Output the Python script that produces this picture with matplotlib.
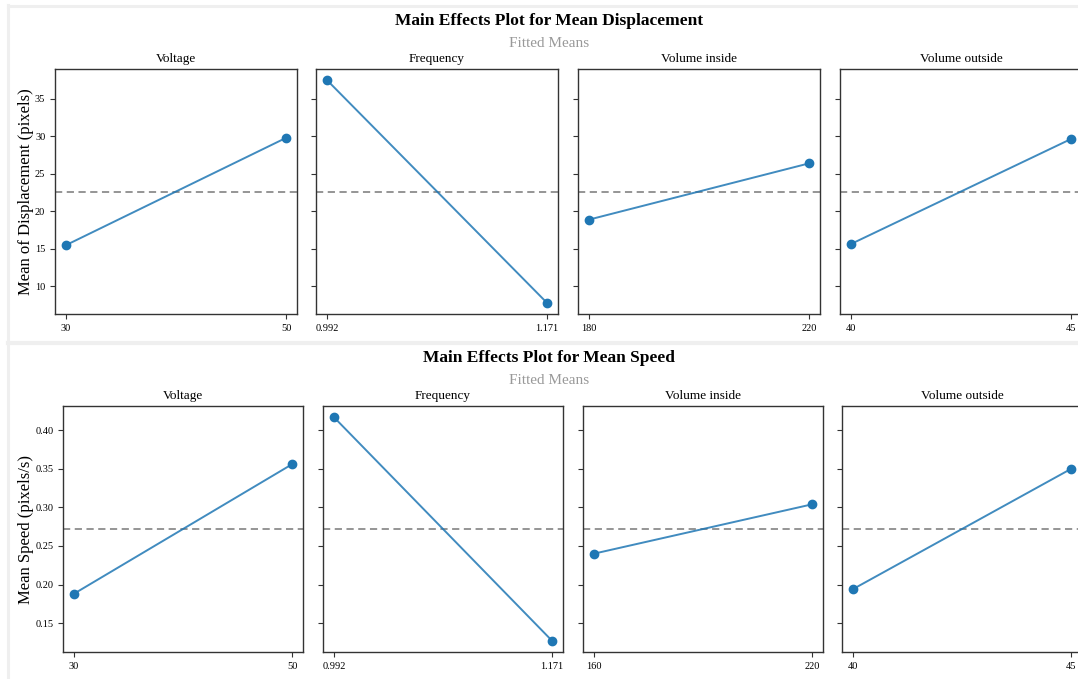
import matplotlib
matplotlib.use('Agg')
import matplotlib.pyplot as plt
from matplotlib.lines import Line2D

plt.rcParams['font.family'] = ['Liberation Serif', 'DejaVu Serif']

# ── Data ──────────────────────────────────────────────────────────────────────
factors = ['Voltage', 'Frequency', 'Volume inside', 'Volume outside']

disp_levels = [[30, 50], [0.992, 1.171], [180, 220], [40, 45]]
disp_means = [[15.5, 29.8], [37.5, 7.8], [18.9, 26.4], [15.65, 29.65]]
disp_grand = 22.65

speed_levels = [[30, 50], [0.992, 1.171], [160, 220], [40, 45]]
speed_means = [[0.188, 0.356], [0.417, 0.127], [0.240, 0.304], [0.194, 0.350]]
speed_grand = 0.272

# ── Figure (pixel layout) ─────────────────────────────────────────────────────
W, H = 1078, 679
fig = plt.figure(figsize=(W / 100, H / 100), dpi=100)
fig.patch.set_facecolor('white')


def px_axes(left, top, width, height):
    return fig.add_axes([left / W, 1 - (top + height) / H, width / W, height / H])


# light grey screenshot frame lines
frame = '#efefef'
fig.add_artist(Line2D([8 / W, 8 / W], [0, 1 - 5 / H], color=frame, lw=2.2,
                      transform=fig.transFigure))
fig.add_artist(Line2D([8 / W, 1], [1 - 5.5 / H, 1 - 5.5 / H], color=frame, lw=2.2,
                      transform=fig.transFigure))
fig.add_artist(Line2D([8 / W, 1], [1 - 343 / H, 1 - 343 / H], color=frame, lw=3,
                      transform=fig.transFigure))


def draw_block(lefts, top, width, height, levels, means, grand, ylabel,
               title, title_y, sub_y):
    axes = []
    for i, name in enumerate(factors):
        ax = px_axes(lefts[i], top, width, height)
        if axes:
            ax.sharey(axes[0])
        axes.append(ax)
        ax.plot(levels[i], means[i], color='#1f77b4', lw=1.4, alpha=0.85,
                zorder=3)
        ax.scatter(levels[i], means[i], color='#1f77b4', s=36, zorder=4)
        ax.axhline(grand, color='#8c8c8c', ls='--', lw=1.3, dashes=(4, 2.5),
                   zorder=2)
        ax.set_xticks(levels[i])
        labels = [f'{v:g}' for v in levels[i]]
        if i == 1:
            labels = [f'{v:.3f}' for v in levels[i]]
        ax.set_xticklabels(labels)
        ax.set_title(name, fontsize=9.5, pad=5)
        ax.tick_params(labelsize=7.5, length=3.5, width=0.8, color='#333333')
        for sp in ax.spines.values():
            sp.set_color('#333333')
            sp.set_linewidth(1.0)
        if i > 0:
            ax.tick_params(labelleft=False)
    axes[0].set_ylabel(ylabel, fontsize=12, labelpad=1)
    fig.text(549 / W, 1 - title_y / H, title, fontsize=12.5, fontweight='bold',
             ha='center', va='center')
    fig.text(549 / W, 1 - sub_y / H, 'Fitted Means', fontsize=11,
             color='#999999', ha='center', va='center')
    return axes


draw_block([55, 316, 578, 840], 69, 242, 245, disp_levels, disp_means,
           disp_grand, 'Mean of Displacement (pixels)',
           'Main Effects Plot for Mean Displacement', 21, 43.5)
draw_block([63, 323, 583, 842], 406, 240, 246, speed_levels, speed_means,
           speed_grand, 'Mean Speed (pixels/s)',
           'Main Effects Plot for Mean Speed', 358, 381)

fig.savefig('out.png', dpi=100, facecolor='white')
